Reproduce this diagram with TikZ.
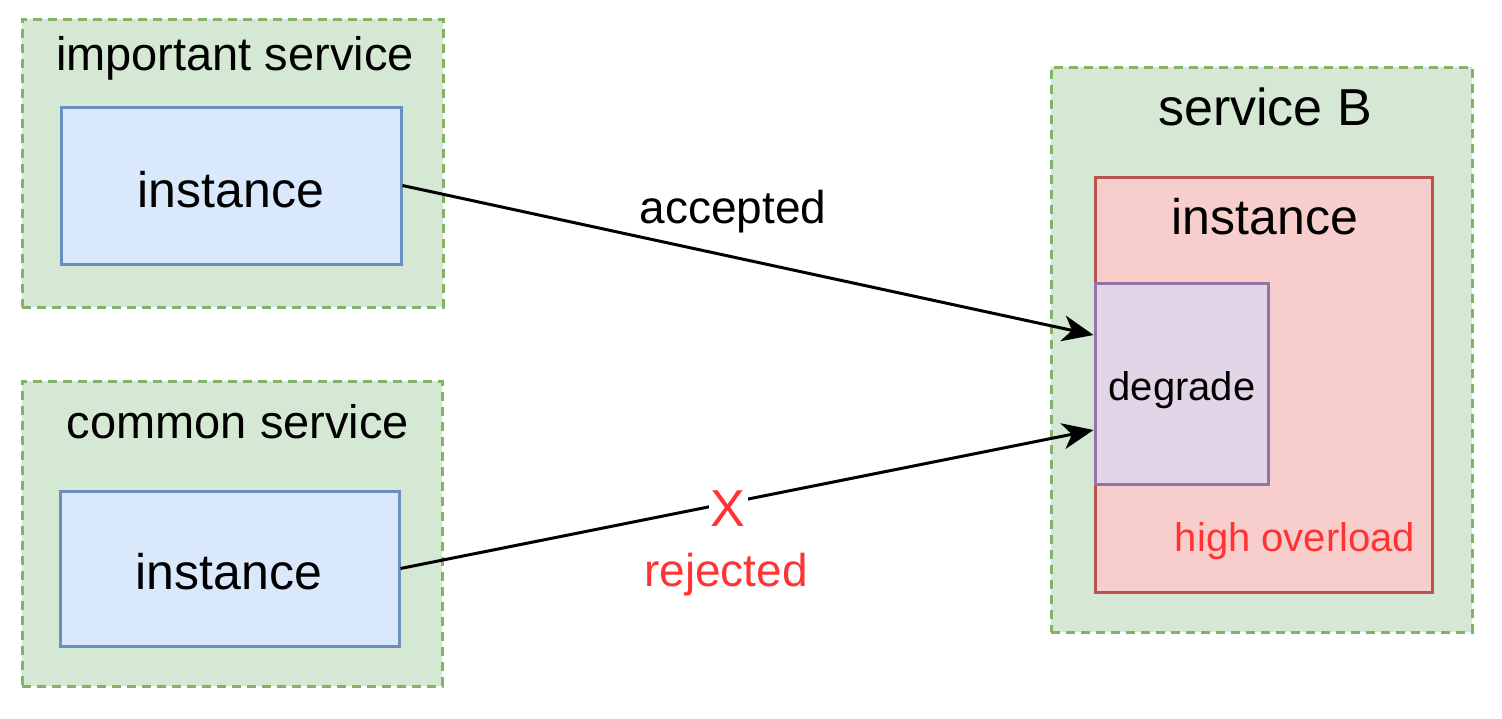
\documentclass[tikz,border=0pt]{standalone}
\usepackage{fontspec}
\setmainfont{Liberation Sans}
\usetikzlibrary{arrows.meta,calc}
\definecolor{gfill}{HTML}{D5E8D4}
\definecolor{gline}{HTML}{82B366}
\definecolor{bfill}{HTML}{DAE8FC}
\definecolor{bline}{HTML}{6C8EBF}
\definecolor{rfill}{HTML}{F8CECC}
\definecolor{rline}{HTML}{B85450}
\definecolor{pfill}{HTML}{E1D5E7}
\definecolor{pline}{HTML}{9673A6}
\definecolor{redtext}{HTML}{FF3333}
\newcommand\myfs[1]{\fontsize{#1}{#1}\selectfont}
\begin{document}
\begin{tikzpicture}[x=1pt,y=-1pt,
  grp/.style={rectangle, draw=gline, fill=gfill, line width=3pt, dash pattern=on 9pt off 6pt, inner sep=0pt},
  inst/.style={rectangle, draw=bline, fill=bfill, line width=3pt, inner sep=0pt},
  over/.style={rectangle, draw=rline, fill=rfill, line width=3pt, inner sep=0pt},
  deg/.style={rectangle, draw=pline, fill=pfill, line width=3pt, inner sep=0pt},
  lbl/.style={anchor=base, inner sep=0pt, font=\myfs{46}},
  big/.style={lbl, font=\myfs{50}},
  conn/.style={line width=3pt, -{Stealth[length=31pt,width=26pt,inset=9pt]}},
]
\useasboundingbox (0,0) rectangle (1502,718);
\fill[white] (0,0) rectangle (1502,718);
% groups
\node[grp, minimum width=421pt, minimum height=288pt] (g1) at (232.5,163) {};
\node[grp, minimum width=420pt, minimum height=305pt] (g2) at (232,533.5) {};
\node[grp, minimum width=421pt, minimum height=565pt] (g3) at (1261.5,349.5) {};
% boxes
\node[inst, minimum width=340pt, minimum height=157pt] (b1) at (231,185.5) {};
\node[inst, minimum width=339pt, minimum height=155pt] (b2) at (229.5,568.5) {};
\node[over, minimum width=337pt, minimum height=415pt] (r) at (1263.5,384.5) {};
\node[deg, minimum width=173pt, minimum height=201pt] (d) at (1181.5,383.5) {};
% texts
\node[lbl, font=\myfs{47}] (t1) at (235,70) {important service};
\node[big] (t2) at (231,207) {instance};
\node[lbl, font=\myfs{47}] (t3) at (238,438) {common service};
\node[big] (t4) at (229,589) {instance};
\node[lbl, font=\myfs{52}] (t5) at (1265,125) {service B};
\node[big] (t6) at (1265,234) {instance};
\node[lbl, font=\myfs{40}] (t7) at (1182,400) {degrade};
\node[lbl, font=\myfs{40}, text=redtext] (t8) at (1295,551) {high overload};
% connectors
\draw[conn] (b1.east) -- ([yshift=48.5pt]d.west);
\draw[conn] (b2.east) -- ([yshift=-46.5pt]d.west)
  node[pos=0.473, yshift=-6pt, fill=white, inner sep=2pt, text=redtext, font=\myfs{52}] (xm) {X};
\node[lbl] (acc) at (733,223) {accepted};
\node[lbl, text=redtext] (rej) at (726,586) {rejected};
\end{tikzpicture}
\end{document}
